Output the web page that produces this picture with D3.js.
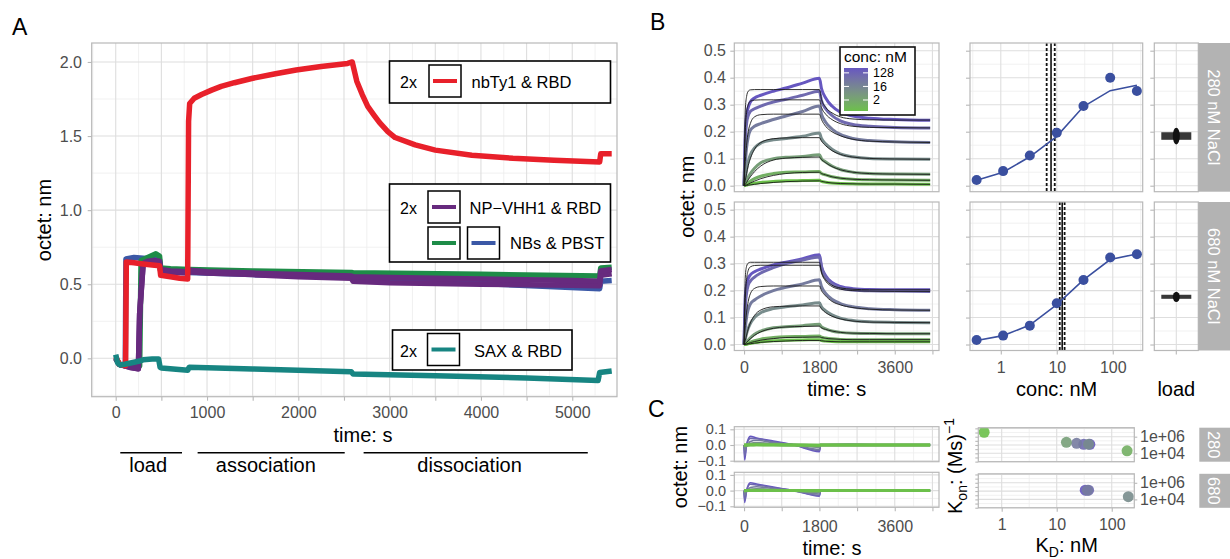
<!DOCTYPE html>
<html>
<head>
<meta charset="utf-8">
<script src="https://cdn.jsdelivr.net/npm/d3@7"></script>
<style>
  body { margin: 0; background: #fff; }
</style>
</head>
<body>
<script>
// ---------------- data: panel A (octet sensorgrams, time in s) ----------------
var redT = [0,40,108,116,200,300,400,480,492,600,700,788,798,810,860,940,1050,1155,1300,1500,1750,1976,2250,2540,2590,2640,2700,2760,2830,2890,2980,3060,3280,3500,3900,4350,4800,5300,5312,5432];
var redV = [0.01,-0.04,-0.05,0.65,0.645,0.637,0.63,0.625,0.56,0.55,0.54,0.535,1.60,1.72,1.755,1.78,1.81,1.835,1.86,1.89,1.92,1.946,1.97,1.99,2.0,1.87,1.78,1.70,1.64,1.59,1.53,1.49,1.44,1.405,1.37,1.35,1.337,1.325,1.38,1.38];
var purpleT = [0,40,150,248,262,300,350,420,480,492,600,790,805,1000,1500,2000,2580,2600,3000,3500,4000,4500,5000,5300,5312,5432];
var purpleV = [0,-0.04,-0.06,-0.07,0.3,0.64,0.655,0.66,0.655,0.6,0.59,0.585,0.595,0.585,0.575,0.565,0.555,0.55,0.545,0.54,0.535,0.53,0.525,0.52,0.59,0.6];
var purple2V = [0,-0.04,-0.06,-0.07,0.3,0.63,0.645,0.65,0.645,0.59,0.58,0.575,0.585,0.575,0.565,0.55,0.54,0.52,0.51,0.505,0.5,0.497,0.493,0.49,0.56,0.57];
var greenT = [0,40,150,262,278,350,440,480,492,600,800,1500,2580,2600,4000,5300,5312,5432];
var greenV = [0,-0.04,-0.05,-0.05,0.66,0.68,0.705,0.69,0.61,0.605,0.6,0.59,0.58,0.578,0.567,0.555,0.61,0.615];
var blueT = [0,40,105,112,200,300,400,480,492,600,800,1500,2580,2600,4000,5300,5312,5432];
var blueV = [0,-0.04,-0.05,0.67,0.68,0.675,0.67,0.665,0.59,0.585,0.58,0.565,0.55,0.535,0.505,0.47,0.52,0.525];
var tealT = [0,20,50,100,250,300,400,470,486,500,790,805,1500,2580,2600,3500,4500,5283,5300,5432];
var tealV = [0.025,-0.03,-0.045,-0.04,-0.02,-0.01,-0.005,-0.005,-0.06,-0.066,-0.08,-0.06,-0.072,-0.09,-0.105,-0.118,-0.132,-0.15,-0.095,-0.085];

var phaseLabels = ["load", "association", "dissociation"];
var phaseStart = [50, 897, 2715];
var phaseEnd = [726, 2508, 5170];
var phaseTextT = [355, 1644, 3876];

// ---------------- data: panel B / C (per concentration) ----------------
var concs = [270, 90, 30, 10, 3.3, 1.1, 0.37];   // nM
var tB = [0,30,60,100,150,250,400,700,1000,1400,1800,1850,1950,2100,2300,2600,3000,3600,4446];

var obs280 = [
  [0,.20,.26,.29,.31,.325,.335,.35,.362,.38,.398,.36,.325,.295,.272,.258,.25,.245,.242],
  [0,.17,.23,.26,.275,.285,.295,.31,.32,.335,.35,.315,.285,.26,.24,.227,.22,.216,.214],
  [0,.08,.14,.18,.205,.22,.23,.245,.258,.275,.295,.265,.235,.21,.19,.175,.167,.163,.16],
  [0,.03,.06,.09,.115,.14,.158,.17,.175,.183,.195,.175,.155,.135,.118,.107,.101,.099,.098],
  [0,.01,.02,.032,.045,.065,.085,.1,.105,.108,.115,.1,.088,.073,.06,.05,.045,.043,.042],
  [0,.003,.007,.012,.017,.026,.035,.045,.05,.051,.053,.045,.04,.033,.028,.024,.022,.021,.02],
  [0,.001,.002,.004,.006,.009,.012,.016,.018,.019,.02,.016,.013,.01,.008,.007,.006,.006,.005]
];
var fit280 = [
  [0,.28,.33,.35,.355,.356,.356,.356,.356,.356,.356,.32,.29,.27,.255,.247,.244,.243,.243],
  [0,.2,.27,.3,.313,.317,.318,.318,.318,.318,.318,.29,.265,.245,.23,.22,.216,.215,.214],
  [0,.09,.15,.2,.23,.255,.263,.265,.265,.265,.265,.245,.22,.2,.185,.172,.165,.162,.16],
  [0,.02,.045,.075,.1,.135,.16,.174,.177,.178,.178,.165,.148,.13,.116,.106,.101,.099,.098],
  [0,.005,.012,.022,.033,.052,.073,.095,.102,.105,.106,.097,.085,.071,.059,.05,.045,.043,.042],
  [0,.001,.003,.006,.01,.017,.026,.038,.045,.049,.05,.045,.04,.033,.028,.024,.022,.021,.02],
  [0,0,.001,.002,.003,.005,.008,.012,.015,.017,.018,.016,.013,.01,.008,.007,.006,.006,.005]
];
var obs680 = [
  [0,.18,.22,.245,.258,.27,.28,.295,.305,.318,.333,.29,.255,.23,.215,.207,.204,.203,.203],
  [0,.14,.19,.22,.235,.25,.265,.285,.3,.313,.325,.285,.25,.225,.21,.202,.199,.198,.197],
  [0,.06,.1,.13,.15,.165,.18,.2,.212,.225,.24,.215,.19,.168,.152,.14,.133,.129,.127],
  [0,.02,.04,.06,.078,.1,.118,.133,.14,.147,.155,.14,.125,.11,.098,.089,.084,.082,.081],
  [0,.004,.01,.017,.025,.038,.05,.062,.066,.07,.075,.065,.058,.05,.045,.042,.041,.04,.04],
  [0,.001,.003,.006,.009,.014,.02,.026,.029,.03,.032,.027,.024,.021,.019,.018,.018,.018,.018],
  [0,0,.001,.003,.004,.007,.01,.014,.016,.017,.018,.015,.013,.011,.01,.01,.01,.01,.01]
];
var fit680 = [
  [0,.25,.29,.302,.305,.305,.305,.305,.305,.305,.305,.27,.24,.22,.21,.205,.203,.203,.203],
  [0,.17,.24,.275,.288,.293,.294,.294,.294,.294,.294,.265,.235,.215,.205,.2,.198,.197,.197],
  [0,.07,.12,.16,.188,.208,.215,.217,.217,.217,.217,.2,.18,.16,.147,.137,.131,.128,.127],
  [0,.015,.035,.058,.08,.108,.128,.14,.142,.143,.143,.132,.118,.105,.095,.087,.083,.082,.081],
  [0,.003,.008,.014,.021,.034,.047,.06,.065,.067,.068,.062,.056,.05,.045,.042,.041,.04,.04],
  [0,.001,.002,.004,.007,.011,.016,.022,.026,.027,.028,.026,.023,.021,.019,.018,.018,.018,.018],
  [0,0,.001,.002,.003,.005,.008,.011,.013,.015,.015,.014,.012,.011,.01,.01,.01,.01,.01]
];

// dose response (same concentration order)
var resp280 = [0.351, 0.40, 0.295, 0.196, 0.112, 0.054, 0.021];
var respFit280 = [0.372, 0.352, 0.293, 0.183, 0.107, 0.05, 0.02];
var resp680 = [0.335, 0.323, 0.239, 0.153, 0.07, 0.033, 0.017];
var respFit680 = [0.336, 0.315, 0.24, 0.148, 0.072, 0.033, 0.015];
var kd280 = [6.6, 7.9, 9.2];    // lower, estimate, upper (nM)
var kd680 = [11.3, 12.5, 13.8];

// load level
var loadVal = [0.184, 0.177];
var loadBar = [0.014, 0.0075];
var loadBlob = [0.031, 0.019];

// residuals (panel C)
var tR = [0,15,60,150,300,700,1200,1800,1830,2500,3600,4446];
var res280 = [
  [0,-.095,0,.055,.045,.025,0,-.042,0,.004,0,0],
  [0,-.07,0,.042,.04,.02,0,-.035,0,.003,0,0],
  [0,-.035,-.01,.022,.03,.015,0,-.028,0,.002,0,0],
  [0,-.012,-.005,.01,.015,.008,0,-.015,0,0,0,0],
  [0,-.003,0,.004,.005,.003,0,-.005,0,0,0,0],
  [0,0,0,.001,.002,.001,0,-.002,0,0,0,0],
  [0,0,0,0,.001,0,0,-.001,0,0,0,0]
];
var res680 = [
  [0,-.075,0,.05,.042,.022,0,-.035,0,.003,0,0],
  [0,-.06,0,.04,.036,.018,0,-.03,0,.002,0,0],
  [0,-.03,-.008,.02,.025,.012,0,-.022,0,0,0,0],
  [0,-.01,-.004,.008,.012,.006,0,-.012,0,0,0,0],
  [0,-.002,0,.003,.004,.002,0,-.004,0,0,0,0],
  [0,0,0,.001,.001,.001,0,-.001,0,0,0,0],
  [0,0,0,0,0,0,0,0,0,0,0,0]
];

// local fits: KD (nM) and kon (1/Ms); null = not shown
var kdLoc280 = [40, 31, 23, 38, 15, 190, 0.48];
var kon280 = [1.2e5, 1.2e5, 1.6e5, 1.26e5, 2.1e5, 2.0e4, 3.4e6];
var kdLoc680 = [33, 38, 36, 200, null, null, null];
var kon680 = [1.3e5, 1.3e5, 1.25e5, 2.1e4, null, null, null];

var cbLabels = [2, 16, 128];
var konLabelVals = [1e4, 1e6];
var konLabels = ["1e+04", "1e+06"];

// ---------------- setup ----------------
var FONT = "'Liberation Sans', Arial, Helvetica, sans-serif";
var BORDER = "#b8b8b8", GRID = "#dedede", GRIDM = "#ededed", TXT = "#4d4d4d";

var svg = d3.select("body").append("svg")
  .attr("width", 1230).attr("height", 559)
  .style("font-family", FONT);
svg.append("rect").attr("width", 1230).attr("height", 559).attr("fill", "#fff");

var concColor = d3.scaleLog().domain([0.37, 270])
  .range(["#6cc04a", "#6657c0"]).interpolate(d3.interpolateLab);

var clipN = 0;
// white panel + grid lines; returns a clipped group for the data
function panel(x, y, xMaj, xMin, yMaj, yMin) {
  var x0 = d3.min(x.range()), x1 = d3.max(x.range());
  var y0 = d3.min(y.range()), y1 = d3.max(y.range());
  var g = svg.append("g");
  g.append("rect").attr("x", x0).attr("y", y0).attr("width", x1 - x0).attr("height", y1 - y0).attr("fill", "#fff");
  var inX = function(v) { return x(v) >= x0 && x(v) <= x1; };
  var inY = function(v) { return y(v) >= y0 && y(v) <= y1; };
  xMin.filter(inX).forEach(function(v) {
    g.append("line").attr("x1", x(v)).attr("x2", x(v)).attr("y1", y0).attr("y2", y1).attr("stroke", GRIDM).attr("stroke-width", 0.8);
  });
  yMin.filter(inY).forEach(function(v) {
    g.append("line").attr("y1", y(v)).attr("y2", y(v)).attr("x1", x0).attr("x2", x1).attr("stroke", GRIDM).attr("stroke-width", 0.8);
  });
  xMaj.filter(inX).forEach(function(v) {
    g.append("line").attr("x1", x(v)).attr("x2", x(v)).attr("y1", y0).attr("y2", y1).attr("stroke", GRID).attr("stroke-width", 1.1);
  });
  yMaj.filter(inY).forEach(function(v) {
    g.append("line").attr("y1", y(v)).attr("y2", y(v)).attr("x1", x0).attr("x2", x1).attr("stroke", GRID).attr("stroke-width", 1.1);
  });
  var id = "clip" + (clipN++);
  svg.append("clipPath").attr("id", id).append("rect")
    .attr("x", x0).attr("y", y0).attr("width", x1 - x0).attr("height", y1 - y0);
  var data = svg.append("g").attr("clip-path", "url(#" + id + ")");
  return { data: data, x0: x0, x1: x1, y0: y0, y1: y1 };
}
function border(p) {
  svg.append("rect").attr("x", p.x0).attr("y", p.y0).attr("width", p.x1 - p.x0).attr("height", p.y1 - p.y0)
    .attr("fill", "none").attr("stroke", BORDER).attr("stroke-width", 1.2);
}
function axis(gen, tx, ty, vals, fmt, pad, size, fsize) {
  var a = svg.append("g").attr("transform", "translate(" + tx + "," + ty + ")")
    .call(gen.tickValues(vals).tickFormat(fmt).tickSizeInner(size || 4).tickSizeOuter(0).tickPadding(pad));
  a.attr("font-family", null).attr("font-size", null);
  a.select(".domain").remove();
  a.selectAll(".tick line").attr("stroke", BORDER).attr("stroke-width", 1.1);
  a.selectAll(".tick text").attr("fill", TXT).style("font-size", (fsize || 16) + "px");
  return a;
}
function label(txt, x, y, size, opts) {
  opts = opts || {};
  var t = svg.append("text").attr("x", x).attr("y", y).attr("font-size", size)
    .attr("text-anchor", opts.anchor || "middle").attr("fill", opts.fill || "#000").text(txt);
  if (opts.rotate) t.attr("transform", "rotate(" + opts.rotate + "," + x + "," + y + ")");
  return t;
}
function strip(x0, x1, y0, y1, txt) {
  svg.append("rect").attr("x", x0).attr("y", y0).attr("width", x1 - x0).attr("height", y1 - y0).attr("fill", "#b3b3b3");
  var cx = (x0 + x1) / 2 - 1, cy = (y0 + y1) / 2;
  svg.append("text").attr("x", cx).attr("y", cy).attr("font-size", 16.5).attr("fill", "#fff")
    .attr("text-anchor", "middle").attr("dominant-baseline", "central")
    .attr("transform", "rotate(90," + cx + "," + cy + ")").text(txt);
}
var range = function(a, b, s) { return d3.range(a, b + s / 2, s); };

// ================= Panel A =================
var xA = d3.scaleLinear().domain([-263, 5490]).range([91.7, 617]);
var yA = d3.scaleLinear().domain([-0.259, 2.128]).range([396.7, 43]);
var pA = panel(xA, yA, range(0, 5000, 500), range(-250, 5250, 500), range(0, 2, 0.5), range(-0.25, 1.75, 0.5));

var seriesA = [
  { t: blueT, v: blueV, c: "#3b58a6" },
  { t: greenT, v: greenV, c: "#1e8c48" },
  { t: purpleT, v: purple2V, c: "#672a7e" },
  { t: purpleT, v: purpleV, c: "#672a7e" },
  { t: redT, v: redV, c: "#e8202a" },
  { t: tealT, v: tealV, c: "#178582" }
];
var lineA = d3.line().x(function(d) { return xA(d[0]); }).y(function(d) { return yA(d[1]); });
seriesA.forEach(function(s) {
  pA.data.append("path").attr("d", lineA(d3.zip(s.t, s.v)))
    .attr("fill", "none").attr("stroke", s.c).attr("stroke-width", 5.5)
    .attr("stroke-linejoin", "round");
});
border(pA);
axis(d3.axisBottom(xA), 0, pA.y1, range(0, 5000, 500), function(v) { return v % 1000 === 0 ? v : ""; }, 6);
axis(d3.axisLeft(yA), pA.x0, 0, range(0, 2, 0.5), d3.format(".1f"), 5.7);
label("octet: nm", 50.5, 220, 20, { rotate: -90 });
label("time: s", 363, 441.7, 20);

phaseLabels.forEach(function(l, i) {
  svg.append("line").attr("x1", xA(phaseStart[i])).attr("x2", xA(phaseEnd[i]))
    .attr("y1", 452.7).attr("y2", 452.7).attr("stroke", "#000").attr("stroke-width", 1.6);
  label(l, xA(phaseTextT[i]), 471.7, 20);
});

// legends in panel A
function legendBox(x, y, w, h) {
  svg.append("rect").attr("x", x).attr("y", y).attr("width", w).attr("height", h)
    .attr("fill", "#fff").attr("stroke", "#000").attr("stroke-width", 1.6);
}
function legendKey(x, y, c) {
  svg.append("rect").attr("x", x).attr("y", y).attr("width", 32).attr("height", 32)
    .attr("fill", "#fff").attr("stroke", "#000").attr("stroke-width", 1.5);
  svg.append("line").attr("x1", x + 4).attr("x2", x + 28).attr("y1", y + 16).attr("y2", y + 16)
    .attr("stroke", c).attr("stroke-width", 4);
}
legendBox(389.5, 61, 221, 42);
label("2x", 400, 88, 16, { anchor: "start" });
legendKey(429, 65, "#e8202a");
label("nbTy1 & RBD", 471.5, 88, 16.5, { anchor: "start" });

legendBox(389.5, 184, 221, 78);
label("2x", 400, 214, 16, { anchor: "start" });
legendKey(428, 191, "#672a7e");
label("NP\u2212VHH1 & RBD", 469.5, 214, 16.5, { anchor: "start" });
legendKey(428, 227, "#1e8c48");
legendKey(467.5, 227, "#3b58a6");
label("NBs & PBST", 510, 249, 16.5, { anchor: "start" });

legendBox(392.5, 330, 179.5, 40);
label("2x", 400, 356.5, 16, { anchor: "start" });
legendKey(427.5, 333.5, "#178582");
label("SAX & RBD", 474, 356.5, 16.5, { anchor: "start" });

label("A", 12, 35, 23, { anchor: "start" });
label("B", 650, 30, 23, { anchor: "start" });
label("C", 648, 416.7, 23, { anchor: "start" });

// ================= Panel B =================
var xB = d3.scaleLinear().domain([-233, 4657]).range([734.3, 939]);
var yBdom = [-0.0222, 0.5285];
var facetsB = [
  { y: d3.scaleLinear().domain(yBdom).range([191.7, 43]), obs: obs280, fit: fit280, resp: resp280, rfit: respFit280, kd: kd280, name: "280 nM NaCl" },
  { y: d3.scaleLinear().domain(yBdom).range([350.5, 202]), obs: obs680, fit: fit680, resp: resp680, rfit: respFit680, kd: kd680, name: "680 nM NaCl" }
];
var xBm = d3.scaleLog().domain([Math.pow(10, -0.55), Math.pow(10, 2.535)]).range([970, 1142.7]);
var xL = d3.scaleBand().domain(["load"]).range([1154.3, 1198.3]);
var yMajB = range(0, 0.5, 0.1), yMinB = range(0.05, 0.45, 0.1);
var logMaj = [1, 10, 100], logMin = [0.316, 3.16, 31.6, 316];

facetsB.forEach(function(f, fi) {
  var bottom = fi === 1;
  // time course
  var p = panel(xB, f.y, range(0, 4500, 900), range(450, 4050, 900), yMajB, yMinB);
  var ln = d3.line().curve(d3.curveMonotoneX)
    .x(function(d) { return xB(d[0]); }).y(function(d) { return f.y(d[1]); });
  f.obs.forEach(function(vals, i) {
    p.data.append("path").attr("d", ln(d3.zip(tB, vals))).attr("fill", "none")
      .attr("stroke", concColor(concs[i])).attr("stroke-width", 3).attr("stroke-linejoin", "round");
  });
  f.fit.forEach(function(vals) {
    p.data.append("path").attr("d", ln(d3.zip(tB, vals))).attr("fill", "none")
      .attr("stroke", "#1a1a1a").attr("stroke-width", 0.9);
  });
  border(p);
  axis(d3.axisLeft(f.y), p.x0, 0, yMajB, d3.format(".1f"), 4.3);
  if (bottom) axis(d3.axisBottom(xB), 0, p.y1, range(0, 4500, 900), function(v) { return v % 1800 === 0 ? v : ""; }, 7);

  // dose response
  var pm = panel(xBm, f.y, logMaj, logMin, yMajB, yMinB);
  f.kd.forEach(function(k, j) {
    pm.data.append("line").attr("x1", xBm(k)).attr("x2", xBm(k)).attr("y1", pm.y0).attr("y2", pm.y1)
      .attr("stroke", "#111").attr("stroke-width", j === 1 ? 1.6 : 1.8)
      .attr("stroke-dasharray", j === 1 ? null : "3,2");
  });
  var lr = d3.line().x(function(d) { return xBm(d[0]); }).y(function(d) { return f.y(d[1]); });
  pm.data.append("path").attr("d", lr(d3.zip(concs, f.rfit))).attr("fill", "none")
    .attr("stroke", "#3a4f9f").attr("stroke-width", 1.6);
  pm.data.selectAll("circle.pt").data(d3.zip(concs, f.resp)).enter().append("circle")
    .attr("cx", function(d) { return xBm(d[0]); }).attr("cy", function(d) { return f.y(d[1]); })
    .attr("r", 5).attr("fill", "#3a4f9f");
  border(pm);
  axis(d3.axisLeft(f.y), pm.x0, 0, yMajB, function() { return ""; }, 0);
  if (bottom) axis(d3.axisBottom(xBm), 0, pm.y1, logMaj, function(v) { return String(v); }, 7);

  // load
  var pl = panel(xL, f.y, [], [], yMajB, yMinB);
  var cx = xL("load") + xL.bandwidth() / 2;
  pl.data.append("line").attr("x1", cx).attr("x2", cx).attr("y1", pl.y0).attr("y2", pl.y1)
    .attr("stroke", GRID).attr("stroke-width", 1.1);
  pl.data.append("rect").attr("x", cx - 15).attr("width", 30)
    .attr("y", f.y(loadVal[fi] + loadBar[fi])).attr("height", f.y(loadVal[fi] - loadBar[fi]) - f.y(loadVal[fi] + loadBar[fi]))
    .attr("fill", "#383838");
  pl.data.append("ellipse").attr("cx", cx).attr("cy", f.y(loadVal[fi]))
    .attr("rx", 3.5).attr("ry", f.y(loadVal[fi] - loadBlob[fi]) - f.y(loadVal[fi]))
    .attr("fill", "#111");
  border(pl);
  axis(d3.axisLeft(f.y), pl.x0, 0, yMajB, function() { return ""; }, 0);
  if (bottom) axis(d3.axisBottom(xL), 0, pl.y1, ["load"], function() { return ""; }, 0);
  strip(1198.3, 1231, pl.y0, pl.y1, f.name);
});

label("octet: nm", 693.7, 196.7, 20, { rotate: -90 });
label("time: s", 836.7, 396, 20);
label("conc: nM", 1056.7, 396, 20);
label("load", 1176.3, 396, 20);

// colour legend inside the first time-course panel
svg.append("rect").attr("x", 840).attr("y", 47).attr("width", 75).attr("height", 68)
  .attr("fill", "#fff").attr("stroke", "#111").attr("stroke-width", 1.6);
label("conc: nM", 844, 62, 15.5, { anchor: "start" });
var grad = svg.append("defs").append("linearGradient").attr("id", "cbar")
  .attr("x1", 0).attr("x2", 0).attr("y1", 1).attr("y2", 0);
var cbY = d3.scaleLog().domain([0.37, 270]).range([111, 68]);
d3.range(0, 11).forEach(function(k) {
  grad.append("stop").attr("offset", k / 10).attr("stop-color", concColor(cbY.invert(111 - 43 * k / 10)));
});
svg.append("rect").attr("x", 844).attr("y", 68).attr("width", 24).attr("height", 43).attr("fill", "url(#cbar)");
cbLabels.forEach(function(c) {
  var yy = cbY(c);
  svg.append("line").attr("x1", 844).attr("x2", 849).attr("y1", yy).attr("y2", yy).attr("stroke", "#fff").attr("stroke-width", 1);
  svg.append("line").attr("x1", 863).attr("x2", 868).attr("y1", yy).attr("y2", yy).attr("stroke", "#fff").attr("stroke-width", 1);
  label(String(c), 873, yy + 4.5, 12.5, { anchor: "start" });
});

// ================= Panel C =================
var yCdom = [-0.1064, 0.1166];
var konDom = [Math.pow(10, 2.99), Math.pow(10, 7.08)];
var facetsC = [
  { y: d3.scaleLinear().domain(yCdom).range([461.7, 426.7]), yk: d3.scaleLog().domain(konDom).range([461.7, 427.7]), res: res280, kd: kdLoc280, kon: kon280, name: "280" },
  { y: d3.scaleLinear().domain(yCdom).range([507.3, 472.3]), yk: d3.scaleLog().domain(konDom).range([507.8, 473.8]), res: res680, kd: kdLoc680, kon: kon680, name: "680" }
];
var xCr = d3.scaleLog().domain([Math.pow(10, -0.425), Math.pow(10, 2.41)]).range([978.3, 1134.3]);
var konMaj = [1e3, 1e4, 1e5, 1e6, 1e7];
var konMin = [3.16e3, 3.16e4, 3.16e5, 3.16e6];

facetsC.forEach(function(f, fi) {
  var bottom = fi === 1;
  var p = panel(xB, f.y, range(0, 4500, 900), range(450, 4050, 900), [-0.1, 0, 0.1], [-0.05, 0.05]);
  var ln = d3.line().curve(d3.curveMonotoneX)
    .x(function(d) { return xB(d[0]); }).y(function(d) { return f.y(d[1]); });
  f.res.forEach(function(vals, i) {
    p.data.append("path").attr("d", ln(d3.zip(tR, vals))).attr("fill", "none")
      .attr("stroke", concColor(concs[i])).attr("stroke-width", i < 4 ? 1.6 : 3);
  });
  border(p);
  axis(d3.axisLeft(f.y), p.x0, 0, [-0.1, 0, 0.1], d3.format(".1f"), 4.3, 4, 14.5);
  if (bottom) axis(d3.axisBottom(xB), 0, p.y1, range(0, 4500, 900), function(v) { return v % 1800 === 0 ? v : ""; }, 9);

  var pk = panel(xCr, f.yk, logMaj, logMin, konMaj, konMin);
  concs.forEach(function(c, i) {
    if (f.kd[i] === null) return;
    pk.data.append("circle").attr("cx", xCr(f.kd[i])).attr("cy", f.yk(f.kon[i]))
      .attr("r", 5.5).attr("fill", concColor(c)).attr("fill-opacity", 0.9);
  });
  border(pk);
  axis(d3.axisLeft(f.yk), pk.x0, 0, konMaj.concat(konMin), function() { return ""; }, 0, 3);
  axis(d3.axisRight(f.yk), pk.x1, 0, konLabelVals, function(v, i) { return konLabels[i]; }, 2.7, 3);
  if (bottom) axis(d3.axisBottom(xCr), 0, pk.y1, logMaj, function(v) { return String(v); }, 6.8);
  strip(1199.3, 1231, pk.y0, pk.y1, f.name);
});

label("octet: nm", 687, 467, 20, { rotate: -90 });
label("time: s", 832, 555, 20);

var kon = svg.append("text").attr("x", 962).attr("y", 466).attr("font-size", 20)
  .attr("text-anchor", "middle").attr("transform", "rotate(-90,962,466)");
kon.append("tspan").text("K");
kon.append("tspan").attr("font-size", 14).attr("dy", 5).text("on");
kon.append("tspan").attr("dy", -5).text(": (Ms)");
kon.append("tspan").attr("font-size", 14).attr("dy", -8).text("\u22121");

var kdT = svg.append("text").attr("x", 1066.7).attr("y", 552).attr("font-size", 20).attr("text-anchor", "middle");
kdT.append("tspan").text("K");
kdT.append("tspan").attr("font-size", 14).attr("dy", 5).text("D");
kdT.append("tspan").attr("dy", -5).text(": nM");
</script>
</body>
</html>
